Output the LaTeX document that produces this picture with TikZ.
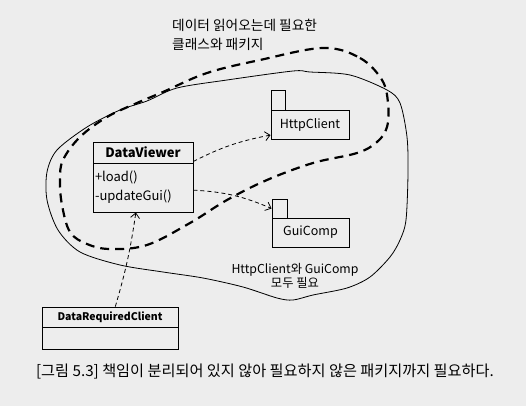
\documentclass[tikz,border=0pt]{standalone}
\usepackage{fontspec}
\setmainfont{Noto Sans CJK KR}
\usetikzlibrary{arrows.meta}

\begin{document}
\begin{tikzpicture}[x=1pt,y=-1pt,
    box/.style={draw,line width=0.9pt,inner sep=2pt},
    dep/.style={draw,dashed,line width=0.8pt,dash pattern=on 4pt off 3pt,
      -{Straight Barb[length=5pt,width=9pt]}}]

        \fill[gray!14] (0,0) rectangle (526,406);

        \begin{scope}[every node/.style={box}]
          \node[minimum width=100pt,minimum height=21pt,font=\fontsize{13}{15}\selectfont\bfseries] (dvhead) at (143,152.5) {DataViewer};
          \node[minimum width=100pt,minimum height=49pt,text width=96pt,align=left,font=\fontsize{13}{19}\selectfont] (dvbody) at (143,187.5) {+load()\\-updateGui()};
          \node[minimum width=136pt,minimum height=20pt,font=\fontsize{10.5}{12}\selectfont\bfseries] (drchead) at (110,317) {DataRequiredClient};
          \node[minimum width=136pt,minimum height=22pt] (drcbody) at (110,338) {};
          \node[minimum width=78pt,minimum height=29pt,font=\fontsize{12.5}{14}\selectfont] (http) at (310,124.5) {HttpClient};
          \node[minimum width=14pt,minimum height=20pt] (httptab) at (278,100) {};
          \node[minimum width=77pt,minimum height=29pt,font=\fontsize{12.5}{14}\selectfont] (gui) at (310.5,232.5) {GuiComp};
          \node[minimum width=15pt,minimum height=19pt] (guitab) at (279.5,208.5) {};
        \end{scope}

        \draw[dashed,line width=2.2pt,dash pattern=on 9pt off 6pt]
          plot[smooth cycle,tension=0.6] coordinates {
            (323,48) (360,58) (382,80) (388,103) (387,127) (377,142) (357,153)
            (313,163) (267,180) (227,200) (190,223) (147,245) (110,249) (87,244)
            (70,232) (62,205) (60,180) (63,160) (80,137) (107,117) (137,103)
            (163,92) (207,73) (260,60)};

        \draw[line width=0.8pt]
          plot[smooth cycle,tension=0.5] coordinates {
            (147,101) (120,110) (87,127) (57,150) (47,172) (47,200) (58,230)
            (80,252) (120,265) (163,272) (203,278) (243,287) (277,298) (293,300)
            (313,295) (347,288) (370,277) (390,257) (400,240) (406,220) (408,173)
            (407,137) (400,103) (387,90) (350,75) (310,72) (293,71) (227,80)
            (177,88)};

        \path (dvhead.-10) edge[dep,bend left=8] (http.195);
        \path (dvbody.-3)  edge[dep,bend left=10] (guitab.west);
        \path (drchead.63) edge[dep,bend right=4] (dvbody.-106);

        \begin{scope}[every node/.style={inner sep=0pt}]
          \node[anchor=north west,align=left,font=\fontsize{13.7}{19}\selectfont] (title) at (172,19) {데이터 읽어오는데 필요한\\클래스와 패키지};
          \node[align=center,font=\fontsize{12.3}{14}\selectfont] (both) at (295,276) {HttpClient와 GuiComp\\모두 필요};
          \node[font=\fontsize{15.2}{17}\selectfont] (caption) at (265,372) {[그림 5.3] 책임이 분리되어 있지 않아 필요하지 않은 패키지까지 필요하다.};
        \end{scope}

\end{tikzpicture}
\end{document}
